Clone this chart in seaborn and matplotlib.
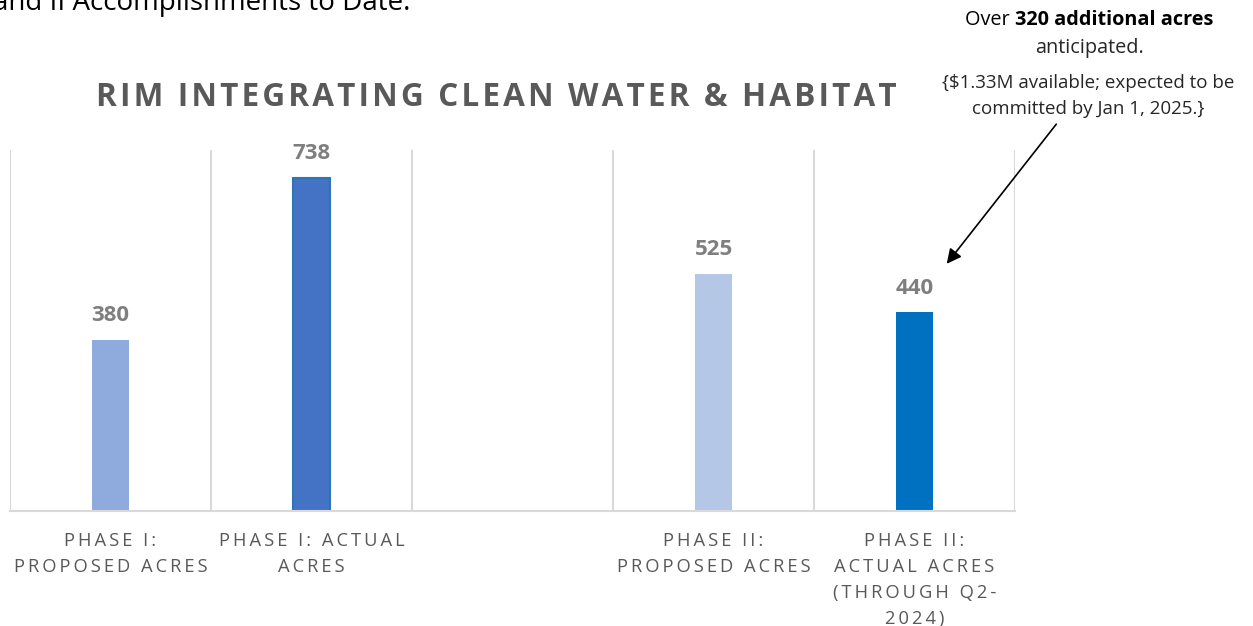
import matplotlib
matplotlib.use("Agg")
import matplotlib.pyplot as plt
import seaborn as sns
import pandas as pd

# data
categories = ["PHASE I:\nPROPOSED ACRES", "PHASE I: ACTUAL\nACRES", " ",
              "PHASE II:\nPROPOSED ACRES", "PHASE II:\nACTUAL ACRES\n(THROUGH Q2-\n2024)"]
acres = [380, 738, None, 525, 440]
bar_colors = ["#8FAADC", "#4472C4", "#FFFFFF", "#B4C7E7", "#0070C0"]
title = "RIM INTEGRATING CLEAN WATER & HABITAT"
header_text = "and II Accomplishments to Date."
note_regular = "Over "
note_bold = "320 additional acres"
note_lines = ["anticipated.", "{$1.33M available; expected to be", "committed by Jan 1, 2025.}"]

sns.set_theme(style="white")
plt.rcParams['font.family'] = ['Open Sans', 'DejaVu Sans']

def spaced(s, sep="\u2009", wsep="\u2009 \u2009"):
    # fake letter spacing
    return "\n".join(wsep.join(sep.join(w) for w in line.split(" ")) for line in s.split("\n"))

df = pd.DataFrame({"cat": categories, "acres": acres})
df = df.dropna()

W, H = 1253, 626
fig = plt.figure(figsize=(W / 100, H / 100), dpi=100)
ax = fig.add_axes([10 / W, 1 - 511 / H, (1015 - 10) / W, (511 - 150) / H])

sns.barplot(data=df, x="cat", y="acres", hue="cat", order=categories,
            palette=dict(zip(categories, bar_colors)), width=0.185,
            legend=False, ax=ax, saturation=1)

for p in ax.patches:
    p.set_edgecolor("none")
for c in ax.containers:
    ax.bar_label(c, fmt="%d", padding=10, fontsize=16, fontweight="bold", color="#7F7F7F")
# darker outline on phase I actual bar
for c in ax.containers:
    for p in c:
        if abs(p.get_height() - 738) < 1:
            p.set_edgecolor("#2E75B6")
            p.set_linewidth(1.5)

ax.set_ylim(0, 800)
ax.set_xlim(-0.5, 4.5)
ax.set_yticks([])
ax.set_xticks(range(len(categories)))
ax.set_xticklabels([spaced(c) for c in categories], fontsize=13.2, color="#595959",
                   linespacing=1.58)
ax.tick_params(axis="x", length=0, pad=15)
ax.set_xticks([i - 0.5 for i in range(len(categories) + 1)], minor=True)
ax.grid(which="minor", axis="x", color="#D9D9D9", linewidth=1.5)
ax.tick_params(which="minor", length=0)
ax.set_xlabel("")
ax.set_ylabel("")
for s in ["top", "left", "right"]:
    ax.spines[s].set_visible(False)
ax.spines["bottom"].set_color("#D9D9D9")
ax.spines["bottom"].set_linewidth(1.5)

fig.canvas.draw()
r = fig.canvas.get_renderer()

# title, size fitted to the reference width
tt = fig.text(496 / W, 1 - 98 / H, spaced(title, sep="\u200a", wsep="\u200a \u200a"),
              ha="center", va="center", fontsize=22, fontweight="bold", color="#595959")
tw = tt.get_window_extent(r).width
tt.set_fontsize(22 * 798 / tw)

fig.text(410 / W, 1 - 10 / H, header_text, ha="right", va="baseline",
         fontsize=20, color="black")

# annotation in the top right
t1 = fig.text(0, 1 - 20 / H, note_regular, ha="left", va="center", fontsize=14.3, color="black")
t2 = fig.text(0, 1 - 20 / H, note_bold, ha="left", va="center", fontsize=14.3,
              fontweight="bold", color="black")
w1 = t1.get_window_extent(r).width
w2 = t2.get_window_extent(r).width
x0 = 1089 - (w1 + w2) / 2
t1.set_x(x0 / W)
t2.set_x((x0 + w1) / W)
fig.text(1090 / W, 1 - 48 / H, note_lines[0], ha="center", va="center", fontsize=14.3)
fig.text(1088 / W, 1 - 83 / H, note_lines[1], ha="center", va="center", fontsize=13.5)
fig.text(1088 / W, 1 - 109 / H, note_lines[2], ha="center", va="center", fontsize=13.5)

ax.annotate("", xy=(945 / W, 1 - 266 / H), xytext=(1058 / W, 1 - 122 / H),
            xycoords="figure fraction", textcoords="figure fraction",
            arrowprops=dict(arrowstyle="-|>", color="black", lw=1.2, mutation_scale=22))

fig.savefig("out.png", dpi=100)
